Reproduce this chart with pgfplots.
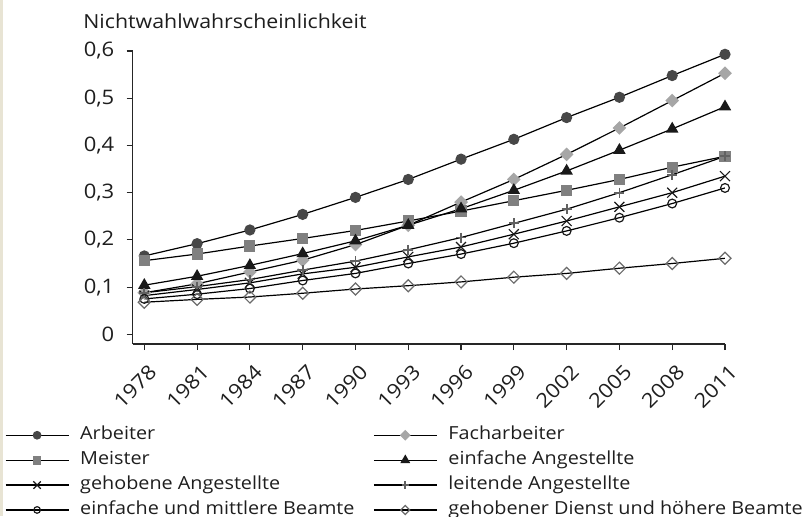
\documentclass[border=0pt]{standalone}
\usepackage{fontspec}
\setmainfont[FakeStretch=1.1]{Open Sans}
\usepackage{pgfplots}
\pgfplotsset{compat=1.18}
\definecolor{beigestrip}{RGB}{232,228,212}
\definecolor{txt}{RGB}{30,30,30}
\newcommand\chartfont{\fontsize{9pt}{11pt}\selectfont}
\newcommand\tickfont{\fontsize{10pt}{12pt}\selectfont}
\newcommand\titlefont{\fontsize{9.7pt}{12pt}\selectfont}
\begin{document}
\chartfont
\begin{tikzpicture}[x=1pt,y=1pt,font=\chartfont]
\useasboundingbox (-66.35,-86) rectangle (335.65,172);
\fill[beigestrip] (-66.35,-86) rectangle (-64.85,172);
\begin{axis}[
  at={(0,0)}, anchor=south west,
  scale only axis, width=296.15pt, height=146.5pt,
  xmin=1977.34, xmax=2011, ymin=-0.0205, ymax=0.6,
  axis x line*=bottom, axis y line*=left,
  xtick={1978,1981,1984,1987,1990,1993,1996,1999,2002,2005,2008,2011},
  ytick={0,0.1,0.2,0.3,0.4,0.5,0.6},
  tick align=outside, major tick length=3pt,
  axis line style={line width=0.6pt, black!85},
  tick style={line width=0.6pt, black!85},
  /pgf/number format/assume math mode=true,
  every tick label/.append style={font=\tickfont, text=txt},
  x tick label style={xshift=6.5pt, yshift=-7pt, rotate=45, anchor=east, /pgf/number format/1000 sep={}},
  y tick label style={xshift=-3pt, /pgf/number format/.cd, fixed, use comma, precision=1},
  every axis title shift=0pt,
  title={Nichtwahlwahrscheinlichkeit},
  title style={at={(axis description cs:0.1558,1.0775)}, anchor=base, font=\titlefont, text=txt},
  every axis plot/.append style={line width=0.6pt, black},
  legend columns=2,
  legend cell align=left,
  legend style={at={(axis description cs:0,0)}, anchor=north west, xshift=-63.85pt, yshift=-39.4pt,
    draw=none, fill=none, inner sep=0pt, outer sep=0pt, row sep=0pt, font=\chartfont,
    nodes={inner xsep=0pt, inner ysep=0pt, text height=8.5pt, text depth=3.95pt, text=txt},
    /tikz/every odd column/.append style={column sep=5.5pt}},
  legend image code/.code={\draw[#1, /tikz/every mark/.append style={scale=0.75}] plot coordinates {(0pt,0pt) (15.75pt,0pt) (31.5pt,0pt)};},
  legend image post style={mark repeat=2, mark phase=2},
]
\addplot[mark=*, mark size=2.5pt, mark options={fill=black!72, draw=black!72}]
 coordinates {(1978,0.166)(1981,0.192)(1984,0.221)(1987,0.254)(1990,0.290)(1993,0.328)(1996,0.371)(1999,0.413)(2002,0.459)(2005,0.502)(2008,0.548)(2011,0.593)};
\addlegendentry{\makebox[146.5pt][l]{Arbeiter}}
\addplot[mark=square*, mark size=2.12pt, mark options={rotate=45, fill=black!35, draw=black!35}]
 coordinates {(1978,0.088)(1981,0.107)(1984,0.132)(1987,0.157)(1990,0.190)(1993,0.231)(1996,0.280)(1999,0.328)(2002,0.381)(2005,0.437)(2008,0.495)(2011,0.553)};
\addlegendentry{Facharbeiter}
\addplot[mark=square*, mark size=2.5pt, mark options={fill=black!50, draw=black!50}]
 coordinates {(1978,0.156)(1981,0.170)(1984,0.187)(1987,0.203)(1990,0.220)(1993,0.240)(1996,0.261)(1999,0.283)(2002,0.305)(2005,0.328)(2008,0.354)(2011,0.377)};
\addlegendentry{\makebox[146.5pt][l]{Meister}}
\addplot[mark=triangle*, mark size=3pt, mark options={fill=black!90, draw=black!90}]
 coordinates {(1978,0.104)(1981,0.123)(1984,0.146)(1987,0.171)(1990,0.198)(1993,0.231)(1996,0.266)(1999,0.305)(2002,0.346)(2005,0.390)(2008,0.435)(2011,0.482)};
\addlegendentry{einfache Angestellte}
\addplot[mark=x, mark size=3.5pt, mark options={draw=black!90, line width=0.6pt}]
 coordinates {(1978,0.082)(1981,0.095)(1984,0.109)(1987,0.128)(1990,0.142)(1993,0.164)(1996,0.185)(1999,0.212)(2002,0.240)(2005,0.270)(2008,0.300)(2011,0.335)};
\addlegendentry{\makebox[146.5pt][l]{gehobene Angestellte}}
\addplot[mark=+, mark size=2.5pt, mark options={draw=black!62, line width=0.9pt}]
 coordinates {(1978,0.088)(1981,0.101)(1984,0.116)(1987,0.136)(1990,0.155)(1993,0.179)(1996,0.205)(1999,0.235)(2002,0.265)(2005,0.300)(2008,0.338)(2011,0.377)};
\addlegendentry{leitende Angestellte}
\addplot[mark=o, mark size=2.2pt, mark options={draw=black!90, line width=0.6pt}]
 coordinates {(1978,0.075)(1981,0.085)(1984,0.097)(1987,0.114)(1990,0.129)(1993,0.150)(1996,0.170)(1999,0.193)(2002,0.219)(2005,0.247)(2008,0.277)(2011,0.310)};
\addlegendentry{\makebox[146.5pt][l]{einfache und mittlere Beamte}}
\addplot[mark=square, mark size=2.12pt, mark options={rotate=45, draw=black!58, line width=0.6pt}]
 coordinates {(1978,0.068)(1981,0.074)(1984,0.079)(1987,0.087)(1990,0.096)(1993,0.103)(1996,0.111)(1999,0.121)(2002,0.129)(2005,0.140)(2008,0.150)(2011,0.161)};
\addlegendentry{gehobener Dienst und höhere Beamte}
\end{axis}
\end{tikzpicture}
\end{document}
